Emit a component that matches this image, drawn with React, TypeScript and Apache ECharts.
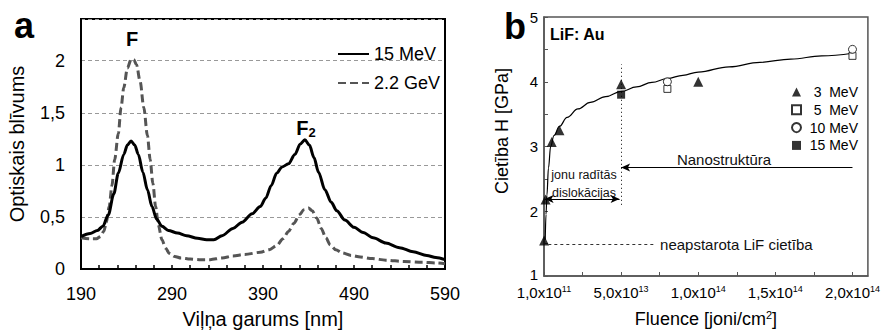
import React, { useEffect, useRef } from 'react';
import * as echarts from 'echarts';

const FONT = '"Liberation Sans", Arial, sans-serif';

// ---------- Panel a: optical density spectra ----------
const waveSolid = [190, 200, 208, 214, 220, 226, 231, 237, 241, 245, 249, 253, 258, 263, 268, 273, 279, 286, 296, 306, 318, 328, 336, 345, 357, 367, 378, 387, 393, 399, 405, 411, 418, 425, 431, 436, 441, 446, 451, 458, 465, 471, 480, 490, 500, 511, 525, 540, 555, 570, 580, 590];
const valSolid = [0.31, 0.34, 0.37, 0.41, 0.52, 0.72, 0.92, 1.1, 1.19, 1.23, 1.19, 1.1, 0.93, 0.76, 0.6, 0.48, 0.41, 0.37, 0.345, 0.32, 0.295, 0.28, 0.28, 0.32, 0.39, 0.45, 0.53, 0.6, 0.68, 0.8, 0.92, 0.98, 1.01, 1.1, 1.2, 1.24, 1.19, 1.07, 0.93, 0.76, 0.64, 0.56, 0.47, 0.4, 0.35, 0.3, 0.25, 0.205, 0.165, 0.13, 0.11, 0.09];
const waveDashed = [190, 200, 207, 211, 215, 218, 221, 224, 227, 231, 234, 237, 241, 245, 248, 251, 255, 259, 263, 266, 269, 272, 275, 279, 283, 287, 293, 300, 310, 320, 332, 345, 357, 370, 387, 397, 405, 412, 418, 424, 430, 435, 440, 444, 449, 454, 459, 464, 470, 477, 487, 497, 510, 525, 545, 565, 580, 590];
const valDashed = [0.3, 0.29, 0.29, 0.31, 0.36, 0.45, 0.6, 0.8, 1.05, 1.3, 1.55, 1.74, 1.93, 2.01, 2.01, 1.96, 1.8, 1.55, 1.28, 1.05, 0.82, 0.6, 0.42, 0.28, 0.2, 0.15, 0.12, 0.105, 0.095, 0.09, 0.09, 0.105, 0.125, 0.14, 0.16, 0.185, 0.225, 0.29, 0.36, 0.44, 0.52, 0.57, 0.585, 0.56, 0.49, 0.39, 0.3, 0.23, 0.185, 0.155, 0.13, 0.115, 0.1, 0.085, 0.072, 0.065, 0.058, 0.05];
const seriesNamesA = ['15 MeV', '2.2 GeV'];

// ---------- Panel b: hardness vs fluence ----------
const fluence3 = [1e11, 1e12, 5e12, 1e13, 5e13, 1e14];
const hard3 = [1.55, 2.18, 3.07, 3.25, 3.96, 4.0];
const fluence5 = [8e13, 2e14];
const hard5 = [3.89, 4.4];
const fluence10 = [8e13, 2e14];
const hard10 = [4.0, 4.5];
const fluence15 = [5e13];
const hard15 = [3.8];
const fitX = [8e11, 1.3e12, 1.9e12, 2.9e12, 4.3e12, 6.5e12, 1e13, 1.5e13, 2.2e13, 3e13, 4e13, 5e13, 6e13, 7e13, 8e13, 9e13, 1e14, 1.2e14, 1.4e14, 1.6e14, 1.8e14, 2e14];
const fitY = [1.56, 1.95, 2.25, 2.67, 3.0, 3.17, 3.31, 3.45, 3.58, 3.68, 3.77, 3.85, 3.92, 3.99, 4.05, 4.1, 4.15, 4.23, 4.3, 4.35, 4.4, 4.44];
const seriesNamesB = ['3  MeV', '5  MeV', '10 MeV', '15 MeV\u200b'];
const xTickLabelsB = ['1,0x10{s|11}', '5,0x10{s|13}', '1,0x10{s|14}', '1,5x10{s|14}', '2,0x10{s|14}'];

const zip = (xs: number[], ys: number[]) => xs.map((x, i) => [x, ys[i]]);

export default function App() {
  const ref = useRef<HTMLDivElement>(null);
  useEffect(() => {
    if (!ref.current) return;
    const chart = echarts.init(ref.current, null, { renderer: 'svg' });
    const axisGrayB = '#555';
    const option: any = {
      animation: false,
      textStyle: { fontFamily: FONT, color: '#000' },
      grid: [
        { left: 81, top: 19, width: 364, height: 255, show: true, borderColor: '#000', borderWidth: 2, backgroundColor: 'transparent' },
        { left: 544, top: 17, width: 324, height: 261, show: true, borderColor: axisGrayB, borderWidth: 1.5, backgroundColor: 'transparent' },
      ],
      xAxis: [
        {
          gridIndex: 0, type: 'value', min: 190, max: 590, interval: 100,
          name: 'Viļņa garums [nm]', nameLocation: 'middle', nameGap: 40,
          nameTextStyle: { fontSize: 20, color: '#000', fontFamily: FONT },
          axisLine: { show: true, lineStyle: { color: '#000', width: 2 } },
          axisTick: { show: true, inside: true, length: 4, lineStyle: { color: '#000', width: 1.5 } },
          minorTick: { show: true, splitNumber: 5, length: 4, lineStyle: { color: '#000', width: 1.5 } },
          axisLabel: { fontSize: 18, color: '#000', margin: 16, fontFamily: FONT },
          splitLine: { show: false },
        },
        {
          gridIndex: 1, type: 'value', min: 0, max: 2.1e14, interval: 2.5e13,
          name: 'Fluence [joni/cm{s|2}]', nameLocation: 'middle', nameGap: 33,
          nameTextStyle: { fontSize: 18, color: '#000', fontFamily: FONT, lineHeight: 20, rich: { s: { fontSize: 11, verticalAlign: 'top', lineHeight: 12, fontFamily: FONT, color: '#000' } } },
          axisLine: { show: true, lineStyle: { color: axisGrayB, width: 1.5 } },
          axisTick: { show: true, inside: true, length: 4, lineStyle: { color: axisGrayB, width: 1 } },
          axisLabel: {
            fontSize: 15, color: '#000', margin: 8, interval: 0, showMaxLabel: false, fontFamily: FONT, lineHeight: 16,
            rich: { s: { fontSize: 9, verticalAlign: 'top', lineHeight: 9, fontFamily: FONT, color: '#000' } },
            formatter: (v: number) => {
              const k = v / 2.5e13;
              const idx = Math.round(k);
              if (Math.abs(k - idx) > 1e-6 || idx % 2 !== 0) return '';
              return xTickLabelsB[idx / 2] || '';
            },
          },
          splitLine: { show: false },
        },
      ],
      yAxis: [
        {
          gridIndex: 0, type: 'value', min: 0, max: 2.4, interval: 0.5,
          name: 'Optiskais blīvums', nameLocation: 'middle', nameGap: 54,
          nameTextStyle: { fontSize: 20, color: '#000', fontFamily: FONT },
          axisLine: { show: true, lineStyle: { color: '#000', width: 2 } },
          axisTick: { show: false },
          axisLabel: { fontSize: 18, color: '#000', margin: 16, showMaxLabel: false, fontFamily: FONT, formatter: (v: number) => String(v).replace('.', ',') },
          splitLine: { show: true, lineStyle: { color: '#999', type: [4, 3], width: 1 } },
        },
        {
          gridIndex: 1, type: 'value', min: 1, max: 5, interval: 0.5,
          axisLine: { show: true, lineStyle: { color: axisGrayB, width: 1.5 } },
          axisTick: { show: true, inside: true, length: 4, lineStyle: { color: axisGrayB, width: 1 } },
          axisLabel: {
            fontSize: 15, color: '#000', margin: 6, interval: 0, fontFamily: FONT, lineHeight: 12,
            rich: { lo: { fontSize: 15, fontFamily: FONT, color: '#000', lineHeight: 12, padding: [0, 0, 4, 0] } },
            formatter: (v: number) => {
              if (Math.abs(v - Math.round(v)) > 1e-6) return '';
              const r = Math.round(v);
              return r === 1 ? `{lo|${r}}` : String(r);
            },
          },
          splitLine: { show: false },
        },
      ],
      legend: [
        {
          selectedMode: false, orient: 'vertical', left: 332, top: 40, itemWidth: 31, itemHeight: 14, itemGap: 11,
          data: seriesNamesA,
          itemStyle: { opacity: 0 },
          textStyle: { fontSize: 18, color: '#000', fontFamily: FONT },
        },
        {
          selectedMode: false, orient: 'vertical', left: 786, top: 80, itemWidth: 9, itemHeight: 9, itemGap: 3.8,
          data: seriesNamesB,
          formatter: (n: string) => `{r|${n.replace('\u200b', '')}}`,
          textStyle: { fontSize: 14, color: '#000', fontFamily: FONT, rich: { r: { width: 52, align: 'right', fontSize: 14, fontFamily: FONT, color: '#000' } } },
        },
      ],
      series: [
        {
          name: seriesNamesA[0], type: 'line', xAxisIndex: 0, yAxisIndex: 0, data: zip(waveSolid, valSolid),
          symbol: 'none', smooth: 0.3, smoothMonotone: 'x', lineStyle: { color: '#000', width: 3 }, itemStyle: { color: '#000' }, z: 3,
        },
        {
          name: seriesNamesA[1], type: 'line', xAxisIndex: 0, yAxisIndex: 0, data: zip(waveDashed, valDashed),
          symbol: 'none', smooth: 0.3, smoothMonotone: 'x', lineStyle: { color: '#555', width: 3, type: [8, 4] }, itemStyle: { color: '#555' }, z: 2,
        },
        {
          name: 'fit', type: 'line', xAxisIndex: 1, yAxisIndex: 1, data: zip(fitX, fitY),
          symbol: 'none', smooth: 0.4, smoothMonotone: 'x', lineStyle: { color: '#000', width: 1.2 }, silent: true,
          markLine: {
            silent: true, animation: false, symbol: ['none', 'none'],
            label: { show: false },
            emphasis: { disabled: true },
            data: [
              [
                { coord: [5e13, 2.1], symbol: 'none', lineStyle: { color: '#000', width: 1, type: [1, 3] } },
                { coord: [5e13, 4.27], symbol: 'none' },
              ],
              [
                { coord: [2e14, 2.675], symbol: 'none', lineStyle: { color: '#000', width: 1, type: 'solid' } },
                { coord: [5e13, 2.675], symbol: 'arrow', symbolSize: [6, 9] },
              ],
              [
                { coord: [4e11, 2.19], symbol: 'arrow', symbolSize: [6, 9], lineStyle: { color: '#000', width: 1, type: 'solid' } },
                { coord: [4.9e13, 2.19], symbol: 'arrow', symbolSize: [6, 9] },
              ],
              [
                { coord: [2.8e12, 1.485], symbol: 'none', lineStyle: { color: '#333', width: 1, type: [3, 3] },
                  label: { show: true, position: 'end', distance: 5, formatter: 'neapstarota LiF cietība', fontSize: 15, color: '#111', fontFamily: FONT } },
                { coord: [7.2e13, 1.485], symbol: 'none' },
              ],
            ],
          },
        },
        {
          name: seriesNamesB[0], type: 'scatter', xAxisIndex: 1, yAxisIndex: 1, data: zip(fluence3, hard3),
          symbol: 'triangle', symbolSize: 10, itemStyle: { color: '#000' }, z: 4,
        },
        {
          name: seriesNamesB[1], type: 'scatter', xAxisIndex: 1, yAxisIndex: 1, data: zip(fluence5, hard5),
          symbol: 'rect', symbolSize: 7, itemStyle: { color: '#fff', borderColor: '#000', borderWidth: 1 }, z: 4,
        },
        {
          name: seriesNamesB[2], type: 'scatter', xAxisIndex: 1, yAxisIndex: 1, data: zip(fluence10, hard10),
          symbol: 'circle', symbolSize: 8, itemStyle: { color: '#fff', borderColor: '#000', borderWidth: 1 }, z: 4,
        },
        {
          name: seriesNamesB[3], type: 'scatter', xAxisIndex: 1, yAxisIndex: 1, data: zip(fluence15, hard15),
          symbol: 'rect', symbolSize: 8, itemStyle: { color: '#000' }, z: 4,
        },
      ],
      graphic: [
        { type: 'text', x: 24, y: 25, style: { text: 'a', fontSize: 36, fontWeight: 'bold', fontFamily: FONT, fill: '#000', align: 'center', verticalAlign: 'middle' } },
        { type: 'text', x: 515, y: 26, style: { text: 'b', fontSize: 36, fontWeight: 'bold', fontFamily: FONT, fill: '#000', align: 'center', verticalAlign: 'middle' } },
        { type: 'text', x: 132, y: 39, style: { text: 'F', fontSize: 20, fontWeight: 'bold', fontFamily: FONT, fill: '#000', align: 'center', verticalAlign: 'middle' } },
        {
          type: 'text', x: 306, y: 128,
          style: {
            text: '{f|F}{s|2}', align: 'center', verticalAlign: 'middle', fill: '#000', fontFamily: FONT,
            rich: {
              f: { fontSize: 20, fontWeight: 'bold', fontFamily: FONT, lineHeight: 22, fill: '#000' },
              s: { fontSize: 13, fontWeight: 'bold', fontFamily: FONT, lineHeight: 10, verticalAlign: 'bottom', fill: '#000' },
            },
          },
        },
        { type: 'text', x: 550, y: 34, style: { text: 'LiF: Au', fontSize: 16, fontWeight: 'bold', fontFamily: FONT, fill: '#000', align: 'left', verticalAlign: 'middle' } },
        { type: 'text', x: 724, y: 159.5, style: { text: 'Nanostruktūra', fontSize: 15, fontFamily: FONT, fill: '#111', align: 'center', verticalAlign: 'middle' } },
        { type: 'text', x: 584, y: 175, style: { text: 'jonu radītās', fontSize: 12.5, fontFamily: FONT, fill: '#111', align: 'center', verticalAlign: 'middle' } },
        { type: 'text', x: 584, y: 192.7, style: { text: 'dislokācijas', fontSize: 12.5, fontFamily: FONT, fill: '#111', align: 'center', verticalAlign: 'middle' } },
        { type: 'text', x: 501.7, y: 131, rotation: Math.PI / 2, style: { text: 'Cietība H [GPa]', fontSize: 18, fontFamily: FONT, fill: '#000', align: 'center', verticalAlign: 'middle' } },
      ],
    };
    chart.setOption(option);
    return () => chart.dispose();
  }, []);
  return <div ref={ref} style={{ position: 'fixed', left: 0, top: 0, width: 883, height: 334, background: '#fff' }} />;
}
